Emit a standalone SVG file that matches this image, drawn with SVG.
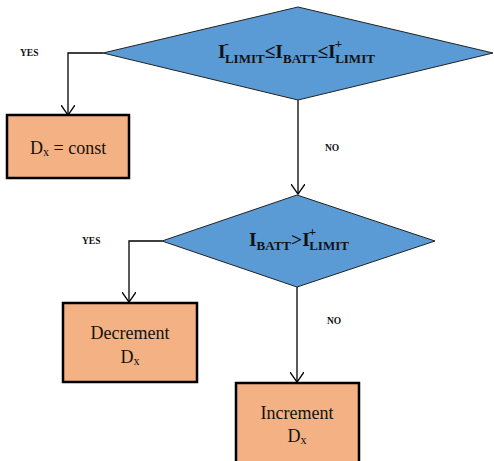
<svg xmlns="http://www.w3.org/2000/svg" width="494" height="461" viewBox="0 0 494 461">
<defs>
<style>
.dec{fill:#5B9BD5;stroke:#222;stroke-width:1}
.box{fill:#F4B183;stroke:#000;stroke-width:2.5}
.ln{fill:none;stroke:#000;stroke-width:1.3}
.t{font-family:'Liberation Serif','Times New Roman','DejaVu Serif',serif;fill:#111}
.b{font-weight:bold}
.lbl{font-family:'Liberation Serif','Times New Roman','DejaVu Serif',serif;font-weight:bold;font-size:9.5px;fill:#111}
</style>
<marker id="arr" markerWidth="12" markerHeight="14" refX="10" refY="7" orient="auto" markerUnits="userSpaceOnUse">
<path d="M0,0 L10,7 L0,14" fill="none" stroke="#000" stroke-width="1.3"/>
</marker>
</defs>
<rect width="494" height="461" fill="#fff"/>
<g id="connectors">
<polyline class="ln" points="103,53 68,53 68,115" marker-end="url(#arr)"/>
<polyline class="ln" points="298,100 298,194" marker-end="url(#arr)"/>
<polyline class="ln" points="162,241 129,241 129,302" marker-end="url(#arr)"/>
<polyline class="ln" points="297,287 297,382" marker-end="url(#arr)"/>
<text class="lbl" x="20" y="56">YES</text>
<text class="lbl" x="325" y="151">NO</text>
<text class="lbl" x="82" y="244">YES</text>
<text class="lbl" x="327" y="324">NO</text>
</g>
<g id="decision1">
<polygon class="dec" points="298,7 493,53 298,100 103,53"/>
<text class="t b" font-size="19.5" x="218" y="58">I<tspan font-size="13" dx="-1" dy="-10">-</tspan><tspan font-size="13" dx="-4" dy="15">LIMIT</tspan><tspan dy="-5">≤I</tspan><tspan font-size="13" dy="5">BATT</tspan><tspan dy="-5">≤I</tspan><tspan font-size="13" dx="-1" dy="-10">+</tspan><tspan font-size="13" dx="-7" dy="15">LIMIT</tspan></text>
</g>
<g id="box1">
<rect class="box" x="7" y="115" width="122" height="63"/>
<text class="t" font-size="18" x="30" y="154">D<tspan font-size="12" dy="2">x</tspan><tspan dy="-2"> = const</tspan></text>
</g>
<g id="decision2">
<polygon class="dec" points="297,195 435,241 297,287 162,241"/>
<text class="t b" font-size="19.5" x="249" y="246">I<tspan font-size="13" dy="4">BATT</tspan><tspan dy="-4">&gt;I</tspan><tspan font-size="13" dx="-1" dy="-10">+</tspan><tspan font-size="13" dx="-7" dy="14">LIMIT</tspan></text>
</g>
<g id="box2">
<rect class="box" x="63" y="303" width="134" height="79"/>
<text class="t" font-size="18" x="130" y="339" text-anchor="middle">Decrement</text>
<text class="t" font-size="18" x="130" y="363" text-anchor="middle">D<tspan font-size="12" dy="2">x</tspan></text>
</g>
<g id="box3">
<rect class="box" x="236" y="383" width="123" height="90"/>
<text class="t" font-size="18" x="297" y="419" text-anchor="middle">Increment</text>
<text class="t" font-size="18" x="297" y="442" text-anchor="middle">D<tspan font-size="12" dy="2">x</tspan></text>
</g>
</svg>
